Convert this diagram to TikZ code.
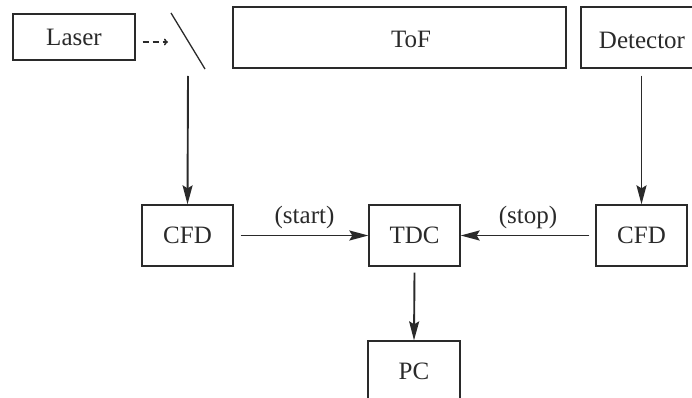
\documentclass[tikz,border=0pt]{standalone}
\usepackage{fontspec}
\setmainfont{Liberation Serif}
\usetikzlibrary{arrows.meta}
\definecolor{ink}{HTML}{2A2A2A}
\tikzset{
  box/.style={draw=ink, line width=1.3pt, rectangle, inner sep=0pt, text=ink, font=\fontsize{25}{28}\selectfont},
  lbl/.style={text=ink, font=\fontsize{25}{28}\selectfont, inner sep=0pt},
  conn/.style={draw=ink, line width=1.9pt, -{Stealth[length=19pt,width=10pt,inset=3pt]}},
  dconn/.style={draw=ink, line width=1.5pt, dash pattern=on 6pt off 4pt, -{To[length=4pt,width=7pt]}}
}
\begin{document}
\begin{tikzpicture}[x=1pt,y=-1pt]
\useasboundingbox (0,0) rectangle (692,398);
\node[box, minimum width=122pt, minimum height=46pt] (laser) at (74,37) {Laser};
\node[box, minimum width=333pt, minimum height=61pt] (tof) at (399.5,37.5) {};
\node[lbl] (toflbl) at (411,39) {ToF};
\node[box, minimum width=125pt, minimum height=61pt] (det) at (643.5,37.5) {};
\node[lbl] (detlbl) at (642,40) {Detector};
\coordinate (mirA) at (171,13);
\coordinate (mirB) at (205,69);
\draw[draw=ink, line width=1.3pt] (mirA) -- (mirB);
\coordinate (mirOut) at (188,76);
\coordinate (mirIn) at (168,42);
\node[box, minimum width=91pt, minimum height=61pt] (cfdL) at (187.5,235.5) {CFD};
\node[box, minimum width=91pt, minimum height=61pt] (tdc) at (414.5,235.5) {TDC};
\node[box, minimum width=91pt, minimum height=61pt] (cfdR) at (641.5,235.5) {CFD};
\node[box, minimum width=92pt, minimum height=61pt] (pc) at (414,371.5) {PC};
\draw[dconn] (laser.east) ++(7,5) coordinate (lsr) -- (lsr -| mirIn);
\draw[conn] (mirOut) -- (cfdL.north);
\draw[conn] (det.south -| cfdR.north) ++(0,7) -- (cfdR.north);
\draw[conn] (cfdL.east) ++(7,0) -- node[lbl, above=6pt] {(start)} (tdc.west);
\draw[conn] (cfdR.west) ++(-6,0) -- node[lbl, above=6pt, xshift=3pt] {(stop)} (tdc.east);
\draw[conn] (tdc.south) ++(0,6) -- (pc.north);
\end{tikzpicture}
\end{document}
